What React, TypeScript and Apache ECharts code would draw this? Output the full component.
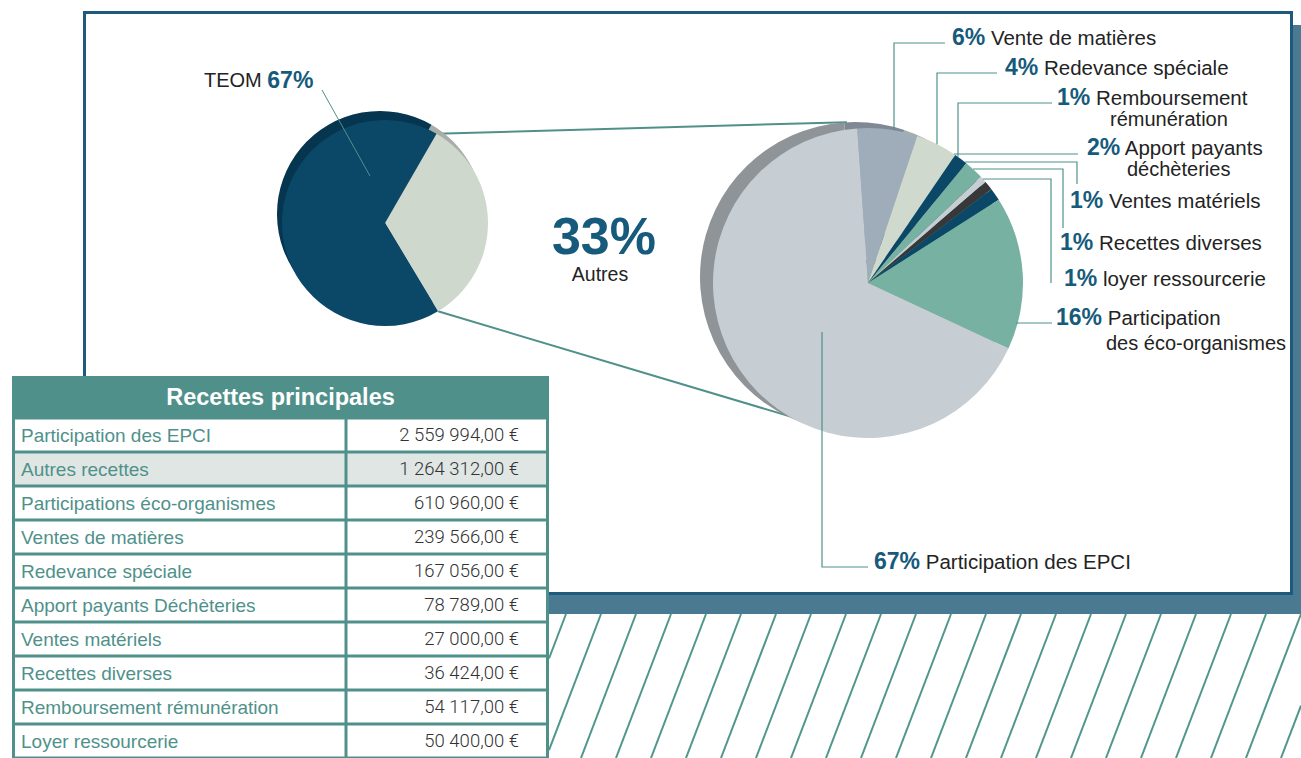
import React, { useEffect, useRef } from 'react';
import * as echarts from 'echarts';

// ---------- DATA ----------
const tableTitle = 'Recettes principales';
const tableLabels = [
  'Participation des EPCI',
  'Autres recettes',
  'Participations éco-organismes',
  'Ventes de matières',
  'Redevance spéciale',
  'Apport payants Déchèteries',
  'Ventes matériels',
  'Recettes diverses',
  'Remboursement rémunération',
  'Loyer ressourcerie',
];
const tableValues = [2559994, 1264312, 610960, 239566, 167056, 78789, 27000, 36424, 54117, 50400];

const overviewNames = ['Autres', 'TEOM'];
const overviewValues = [1264312, 2559994];
const overviewColors = ['#cfd8cd', '#0b4868'];
const overviewEdgeColors = ['#a9aea8', '#05354f'];

const detailNames = [
  'Vente de matières',
  'Redevance spéciale',
  'Remboursement rémunération',
  'Apport payants déchèteries',
  'Ventes matériels',
  'Recettes diverses',
  'loyer ressourcerie',
  'Participation des éco-organismes',
  'Participation des EPCI',
];
const detailValues = [239566, 167056, 54117, 78789, 27000, 36424, 50400, 610960, 2559994];
const detailColors = ['#9fadbb', '#cfd9cd', '#0b4868', '#77b1a1', '#c6ced3', '#383838', '#0b4868', '#77b1a1', '#c6ced3'];
const detailEdgeColors = ['#7f8995', '#a7b0a5', '#073650', '#5c8f81', '#9ea5aa', '#262626', '#073650', '#5c8f81', '#8e9497'];
const detailLabelLines = [
  ['Vente de matières'],
  ['Redevance spéciale'],
  ['Remboursement', 'rémunération'],
  ['Apport payants', 'déchèteries'],
  ['Ventes matériels'],
  ['Recettes diverses'],
  ['loyer ressourcerie'],
  ['Participation', 'des éco-organismes'],
  ['Participation des EPCI'],
];

// ---------- LAYOUT ----------
const FONT = 'Liberation Sans, Arial, Helvetica, sans-serif';
const TEAL = '#4f918a';
const BLUE_TXT = '#165a7c';
const DARK_TXT = '#232323';

const SMALL = { cx: 385, cy: 223, r: 103, ex: -5, ey: -9, start: 60 };
const BIG = { cx: 868, cy: 283, r: 155, ex: -13, ey: -6, start: 94 };

const labelPos = [[952, 37], [1005, 67], [1057, 97], [1087, 147], [1070, 200], [1060, 242], [1064, 278], [1056, 317], [874, 561]];
const secondPos: Record<number, number[]> = { 2: [1110, 119], 3: [1127, 169], 7: [1106, 343] };

function fmtEuro(n: number) {
  return n.toString().replace(/\B(?=(\d{3})+(?!\d))/g, ' ') + ',00 €';
}
function pct(v: number, total: number) {
  return Math.round((v / total) * 100) + '%';
}

export default function App() {
  const ref = useRef<HTMLDivElement>(null);
  useEffect(() => {
    const chart = echarts.init(ref.current!, null, { renderer: 'svg' });

    const detailTotal = detailValues.reduce((a, b) => a + b, 0);
    const overviewTotal = overviewValues.reduce((a, b) => a + b, 0);

    const topY = (x: number) => BIG.cy - Math.sqrt(BIG.r * BIG.r - (x - BIG.cx) * (x - BIG.cx));
    const rightX = (y: number) => BIG.cx + Math.sqrt(BIG.r * BIG.r - (y - BIG.cy) * (y - BIG.cy));

    const leaders: number[][][] = [
      [[894, topY(894)], [894, 43], [945, 43]],
      [[937, topY(937)], [937, 73], [997, 73]],
      [[958, topY(958)], [958, 103], [1052, 103]],
      [[rightX(154), 154], [1078, 154]],
      [[rightX(162), 162], [1077, 162], [1077, 184]],
      [[rightX(169), 169], [1063, 169], [1063, 228]],
      [[rightX(179), 179], [1051, 179], [1051, 283]],
      [[rightX(323) - 2, 323], [1052, 323]],
      [[822, 332], [822, 567], [868, 567]],
    ];

    const g: any[] = [];
    g.push({ type: 'rect', z: 0, silent: true, shape: { x: 97, y: 25, width: 1240, height: 589 }, style: { fill: '#4a7a92' } });
    g.push({ type: 'rect', z: 1, silent: true, shape: { x: 84.5, y: 12.5, width: 1207, height: 581 }, style: { fill: '#ffffff', stroke: '#1d5a7c', lineWidth: 3 } });

    // hatch
    const hx0 = 549, hx1 = 1301, hy0 = 614, hy1 = 758, slope = 0.382;
    for (let xt = 566; xt <= hx1 + (hy1 - hy0) * slope + 35; xt += 35) {
      let x1 = xt, y1 = hy0, x2 = xt - (hy1 - hy0) * slope, y2 = hy1;
      if (x1 > hx1) { y1 = hy0 + (x1 - hx1) / slope; x1 = hx1; }
      if (x2 < hx0) { y2 = hy0 + (xt - hx0) / slope; x2 = hx0; }
      if (y1 >= y2) continue;
      g.push({ type: 'line', z: 1, silent: true, shape: { x1, y1, x2, y2 }, style: { stroke: '#4f968c', lineWidth: 2 } });
    }

    // connectors between the two pies
    const autresAngle = (overviewValues[0] / overviewTotal) * 360;
    const a1 = (SMALL.start * Math.PI) / 180;
    const a2 = ((SMALL.start - autresAngle) * Math.PI) / 180;
    const s1 = [SMALL.cx + SMALL.r * Math.cos(a1), SMALL.cy - SMALL.r * Math.sin(a1)];
    const s2 = [SMALL.cx + SMALL.r * Math.cos(a2), SMALL.cy - SMALL.r * Math.sin(a2)];
    const b1a = (93 * Math.PI) / 180, b2a = (-121 * Math.PI) / 180;
    const b1 = [BIG.cx + BIG.ex + BIG.r * Math.cos(b1a), BIG.cy + BIG.ey - BIG.r * Math.sin(b1a)];
    const b2 = [BIG.cx + BIG.r * Math.cos(b2a), BIG.cy - BIG.r * Math.sin(b2a)];
    g.push({ type: 'line', z: 1, silent: true, shape: { x1: s1[0], y1: s1[1], x2: b1[0], y2: b1[1] }, style: { stroke: TEAL, lineWidth: 2 } });
    g.push({ type: 'line', z: 1, silent: true, shape: { x1: s2[0], y1: s2[1], x2: b2[0], y2: b2[1] }, style: { stroke: TEAL, lineWidth: 2 } });

    // small pie label
    g.push({ type: 'line', z: 10, silent: true, shape: { x1: 322, y1: 90, x2: 370, y2: 176 }, style: { stroke: TEAL, lineWidth: 1 } });
    g.push({
      type: 'text', z: 10, silent: true,
      style: {
        x: 204, y: 80, align: 'left', verticalAlign: 'middle',
        text: '{n|' + overviewNames[1] + ' }{p|' + pct(overviewValues[1], overviewTotal) + '}',
        rich: {
          n: { fontFamily: FONT, fontSize: 20, fill: DARK_TXT, color: DARK_TXT },
          p: { fontFamily: FONT, fontSize: 23, fontWeight: 'bold', fill: BLUE_TXT, color: BLUE_TXT },
        },
      },
    });
    // 33% Autres
    g.push({ type: 'text', z: 10, silent: true, style: { x: 604, y: 236, align: 'center', verticalAlign: 'middle', text: pct(overviewValues[0], overviewTotal), fontFamily: FONT, fontSize: 52, fontWeight: 'bold', fill: BLUE_TXT } });
    g.push({ type: 'text', z: 10, silent: true, style: { x: 600, y: 274, align: 'center', verticalAlign: 'middle', text: overviewNames[0], fontFamily: FONT, fontSize: 19.5, fill: DARK_TXT } });

    // big pie labels + leader lines
    detailValues.forEach((v, i) => {
      g.push({ type: 'polyline', z: 10, silent: true, shape: { points: leaders[i] }, style: { stroke: TEAL, lineWidth: 1.2, fill: 'none' } });
      const lines = detailLabelLines[i];
      g.push({
        type: 'text', z: 10, silent: true,
        style: {
          x: labelPos[i][0], y: labelPos[i][1], align: 'left', verticalAlign: 'middle',
          text: '{p|' + pct(v, detailTotal) + '}{n| ' + lines[0] + '}',
          rich: {
            p: { fontFamily: FONT, fontSize: 23, fontWeight: 'bold', fill: BLUE_TXT, color: BLUE_TXT },
            n: { fontFamily: FONT, fontSize: 20.5, fill: DARK_TXT, color: DARK_TXT },
          },
        },
      });
      if (lines[1] && secondPos[i]) {
        g.push({ type: 'text', z: 10, silent: true, style: { x: secondPos[i][0], y: secondPos[i][1], align: 'left', verticalAlign: 'middle', text: lines[1], fontFamily: FONT, fontSize: 20, fill: DARK_TXT } });
      }
    });

    // table
    const tx = 12, tw = 537, ty = 376, rowTop = 418, rowH = 34, divX = 346;
    g.push({ type: 'rect', z: 10, silent: true, shape: { x: tx, y: ty, width: tw, height: 400 }, style: { fill: TEAL } });
    g.push({ type: 'text', z: 11, silent: true, style: { x: tx + tw / 2, y: 397, align: 'center', verticalAlign: 'middle', text: tableTitle, fontFamily: FONT, fontSize: 23.5, fontWeight: 'bold', fill: '#ffffff' } });
    tableLabels.forEach((lab, i) => {
      const y = rowTop + rowH * i;
      const bg = i === 1 ? '#dfe6e4' : '#ffffff';
      g.push({ type: 'rect', z: 11, silent: true, shape: { x: tx + 3, y: y + 1.5, width: divX - 1.5 - (tx + 3), height: rowH - 3 }, style: { fill: bg } });
      g.push({ type: 'rect', z: 11, silent: true, shape: { x: divX + 1.5, y: y + 1.5, width: tx + tw - 3 - (divX + 1.5), height: rowH - 3 }, style: { fill: bg } });
      g.push({ type: 'text', z: 12, silent: true, style: { x: 21, y: y + 17, align: 'left', verticalAlign: 'middle', text: lab, fontFamily: FONT, fontSize: 19, fill: TEAL } });
      g.push({ type: 'text', z: 12, silent: true, style: { x: 519, y: y + 17, align: 'right', verticalAlign: 'middle', text: fmtEuro(tableValues[i]), fontFamily: 'Roboto, sans-serif', fontSize: 18.5, fontWeight: 300, fill: '#333333' } });
    });

    const pieBase = { type: 'pie', silent: true, label: { show: false }, labelLine: { show: false }, emphasis: { disabled: true }, clockwise: true };

    chart.setOption({
      animation: false,
      backgroundColor: '#ffffff',
      graphic: { elements: g },
      series: [
        {
          ...pieBase, z: 2, center: [SMALL.cx + SMALL.ex, SMALL.cy + SMALL.ey], radius: SMALL.r, startAngle: SMALL.start,
          data: overviewValues.map((v, i) => ({ name: overviewNames[i], value: v, itemStyle: { color: overviewEdgeColors[i] } })),
        },
        {
          ...pieBase, z: 3, center: [SMALL.cx, SMALL.cy], radius: SMALL.r, startAngle: SMALL.start,
          data: overviewValues.map((v, i) => ({ name: overviewNames[i], value: v, itemStyle: { color: overviewColors[i] } })),
        },
        {
          ...pieBase, z: 2, center: [BIG.cx + BIG.ex, BIG.cy + BIG.ey], radius: BIG.r, startAngle: BIG.start,
          data: detailValues.map((v, i) => ({ name: detailNames[i], value: v, itemStyle: { color: detailEdgeColors[i] } })),
        },
        {
          ...pieBase, z: 3, center: [BIG.cx, BIG.cy], radius: BIG.r, startAngle: BIG.start,
          data: detailValues.map((v, i) => ({ name: detailNames[i], value: v, itemStyle: { color: detailColors[i] } })),
        },
      ],
    });
    return () => chart.dispose();
  }, []);
  return <div ref={ref} style={{ position: 'fixed', left: 0, top: 0, width: 1301, height: 758, background: '#fff' }} />;
}
